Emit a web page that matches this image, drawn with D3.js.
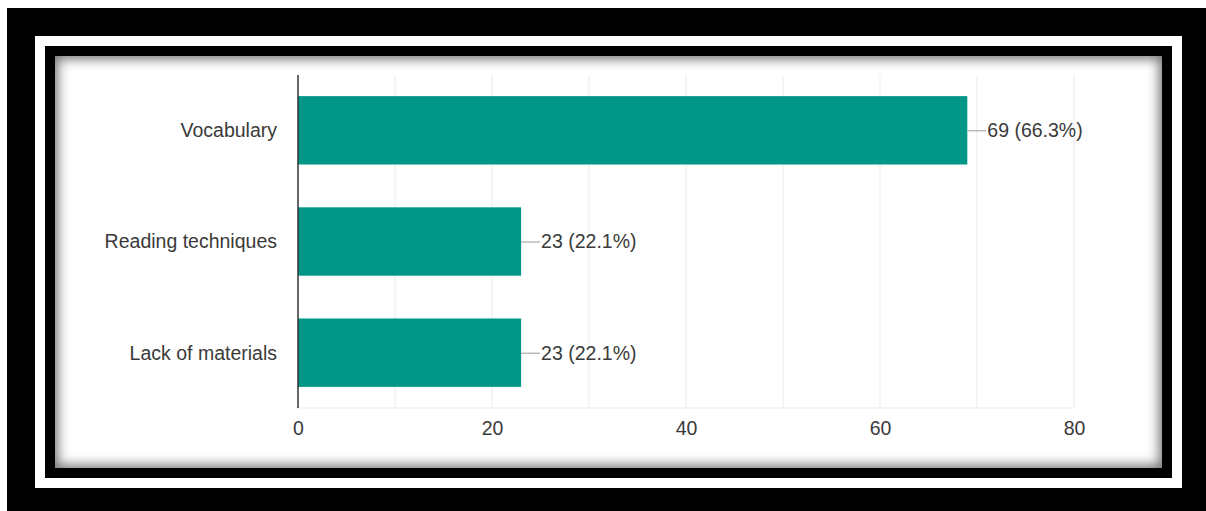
<!DOCTYPE html>
<html>
<head>
<meta charset="utf-8">
<script src="https://cdn.jsdelivr.net/npm/d3@7"></script>
<style>
  body { margin: 0; background: #fff; }
  .frame { position: absolute; left: 7px; top: 8px; width: 1199px; height: 503px; background: #000; }
  .band { position: absolute; left: 35px; top: 36px; width: 1147px; height: 452px; background: #fff; }
  .inner { position: absolute; left: 45px; top: 46px; width: 1127px; height: 432px; background: #000; }
  .card { position: absolute; left: 55px; top: 56px; width: 1107px; height: 412px; background: #fff;
          box-shadow: inset 0 0 12px 3px rgba(0,0,0,0.55); }
  svg { position: absolute; left: 0; top: 0; }
  text { font-family: "Liberation Sans", Arial, sans-serif; font-size: 19.5px; fill: #3a3a3a; }
</style>
</head>
<body>
<div class="frame"></div>
<div class="band"></div>
<div class="inner"></div>
<div class="card"></div>
<svg id="chart" width="1206" height="511"></svg>
<script>
const categories = ["Vocabulary", "Reading techniques", "Lack of materials"];
const counts = [69, 23, 23];
const percents = ["66.3%", "22.1%", "22.1%"];
const xTicks = [0, 20, 40, 60, 80];
const gridTicks = [10, 20, 30, 40, 50, 60, 70, 80];

const plot = { left: 298, right: 1074, top: 75, bottom: 408 };

const svg = d3.select("#chart");

const x = d3.scaleLinear().domain([0, 80]).range([plot.left, plot.right]);
const y = d3.scaleBand().domain(categories).range([plot.top, plot.bottom]).paddingInner(0.385).paddingOuter(0.19);

// grid lines
svg.append("g").selectAll("line")
    .data(gridTicks)
    .enter().append("line")
    .attr("x1", d => x(d)).attr("x2", d => x(d))
    .attr("y1", plot.top).attr("y2", plot.bottom)
    .attr("stroke", "#ebebeb").attr("stroke-width", 1);

svg.append("line")
    .attr("x1", plot.left).attr("x2", plot.right)
    .attr("y1", plot.bottom).attr("y2", plot.bottom)
    .attr("stroke", "#ebebeb");

// bars
svg.append("g").selectAll("rect")
    .data(counts)
    .enter().append("rect")
    .attr("x", x(0))
    .attr("y", (d, i) => y(categories[i]))
    .attr("width", d => x(d) - x(0))
    .attr("height", y.bandwidth())
    .attr("fill", "#009688");

// leader lines + value labels
counts.forEach((d, i) => {
    const cy = y(categories[i]) + y.bandwidth() / 2;
    svg.append("line")
        .attr("x1", x(d)).attr("x2", x(d) + 19)
        .attr("y1", cy + 0.5).attr("y2", cy + 0.5)
        .attr("stroke", "#999").attr("stroke-width", 1);
    svg.append("text")
        .attr("x", x(d) + 20)
        .attr("y", cy)
        .attr("dy", "0.35em")
        .text(`${d} (${percents[i]})`);
});

// category labels
svg.append("g").selectAll("text")
    .data(categories)
    .enter().append("text")
    .attr("x", plot.left - 21)
    .attr("y", d => y(d) + y.bandwidth() / 2)
    .attr("dy", "0.35em")
    .attr("text-anchor", "end")
    .text(d => d);

// y axis line
svg.append("line")
    .attr("x1", plot.left).attr("x2", plot.left)
    .attr("y1", plot.top).attr("y2", plot.bottom)
    .attr("stroke", "#333").attr("stroke-width", 1.5);

// x tick labels
const xAxis = d3.axisBottom(x).tickValues(xTicks).tickSize(0).tickPadding(13);
const gx = svg.append("g")
    .attr("transform", `translate(0,${plot.bottom})`)
    .call(xAxis);
gx.select(".domain").remove();
gx.selectAll("text")
    .style("font-family", '"Liberation Sans", Arial, sans-serif')
    .style("font-size", "19.5px")
    .attr("fill", "#444");
</script>
</body>
</html>
